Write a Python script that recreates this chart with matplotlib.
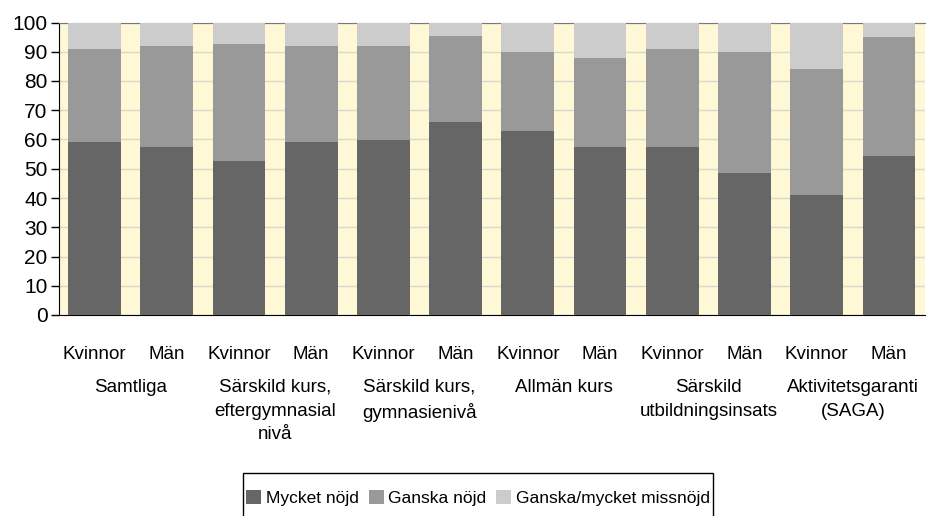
import matplotlib
matplotlib.use("Agg")
import matplotlib.pyplot as plt
from matplotlib.patches import Rectangle
import numpy as np

bar_labels = ["Kvinnor", "Män"] * 6
groups = ["Samtliga", "Särskild kurs,\neftergymnasial\nnivå", "Särskild kurs,\ngymnasienivå",
          "Allmän kurs", "Särskild\nutbildningsinsats", "Aktivitetsgaranti\n(SAGA)"]
mycket_nojd = [59, 57.5, 52.5, 59, 60, 66, 63, 57.5, 57.5, 48.5, 41, 54.5]
ganska_nojd = [32, 34.5, 40, 33, 32, 29.5, 27, 30.5, 33.5, 41.5, 43, 40.5]
missnojd = [9, 8, 7.5, 8, 8, 4.5, 10, 12, 9, 10, 16, 5]

plt.rcParams['font.family'] = ['Liberation Sans', 'DejaVu Sans']

W, H = 926, 516
fig = plt.figure(figsize=(W / 100, H / 100), dpi=100)
ax = fig.add_axes([58.5 / W, 1 - 315 / H, (925 - 58.5) / W, (315 - 22.5) / H])
ax.set_facecolor('#FFF8D6')

x = np.arange(len(bar_labels))
w = 0.73
ax.bar(x, mycket_nojd, w, color='#666666', label='Mycket nöjd', zorder=3)
ax.bar(x, ganska_nojd, w, bottom=mycket_nojd, color='#999999', label='Ganska nöjd', zorder=3)
bottom2 = [a + b for a, b in zip(mycket_nojd, ganska_nojd)]
ax.bar(x, missnojd, w, bottom=bottom2, color='#CCCCCC', label='Ganska/mycket missnöjd', zorder=3)

ax.set_xlim(-0.5, len(x) - 0.5)
ax.set_ylim(0, 100)
ax.set_yticks(range(0, 101, 10))
ax.tick_params(axis='y', labelsize=15, length=6, width=1, pad=2)
ax.set_xticks(x)
ax.set_xticklabels(bar_labels, fontsize=13.5)
ax.tick_params(axis='x', length=0, pad=22)
ax.grid(axis='y', color='#D8D8CC', lw=1, zorder=1)

for s in ['left', 'bottom']:
    ax.spines[s].set_color('black')
ax.spines['top'].set_color('#777777')
ax.spines['right'].set_visible(False)

for i, g in enumerate(groups):
    ax.annotate(g, xy=(2 * i + 0.5, 0), xycoords=('data', 'axes fraction'),
                xytext=(0, -64), textcoords='offset pixels', ha='center', va='top',
                fontsize=13.5, linespacing=1.5)

# legend without frame, box drawn separately (bottom edge runs off the image)
h, l = ax.get_legend_handles_labels()
fig.legend(h, l, loc='center', bbox_to_anchor=(478 / W, 1 - 498 / H),
           ncol=3, fontsize=12.5, frameon=False,
           handlelength=0.85, handleheight=0.85, handletextpad=0.25, columnspacing=0.6)
fig.patches.append(Rectangle((243 / W, 1 - 525 / H), 470 / W, 52 / H, transform=fig.transFigure,
                             fill=False, edgecolor='black', lw=1))

fig.savefig("out.png", dpi=100)
